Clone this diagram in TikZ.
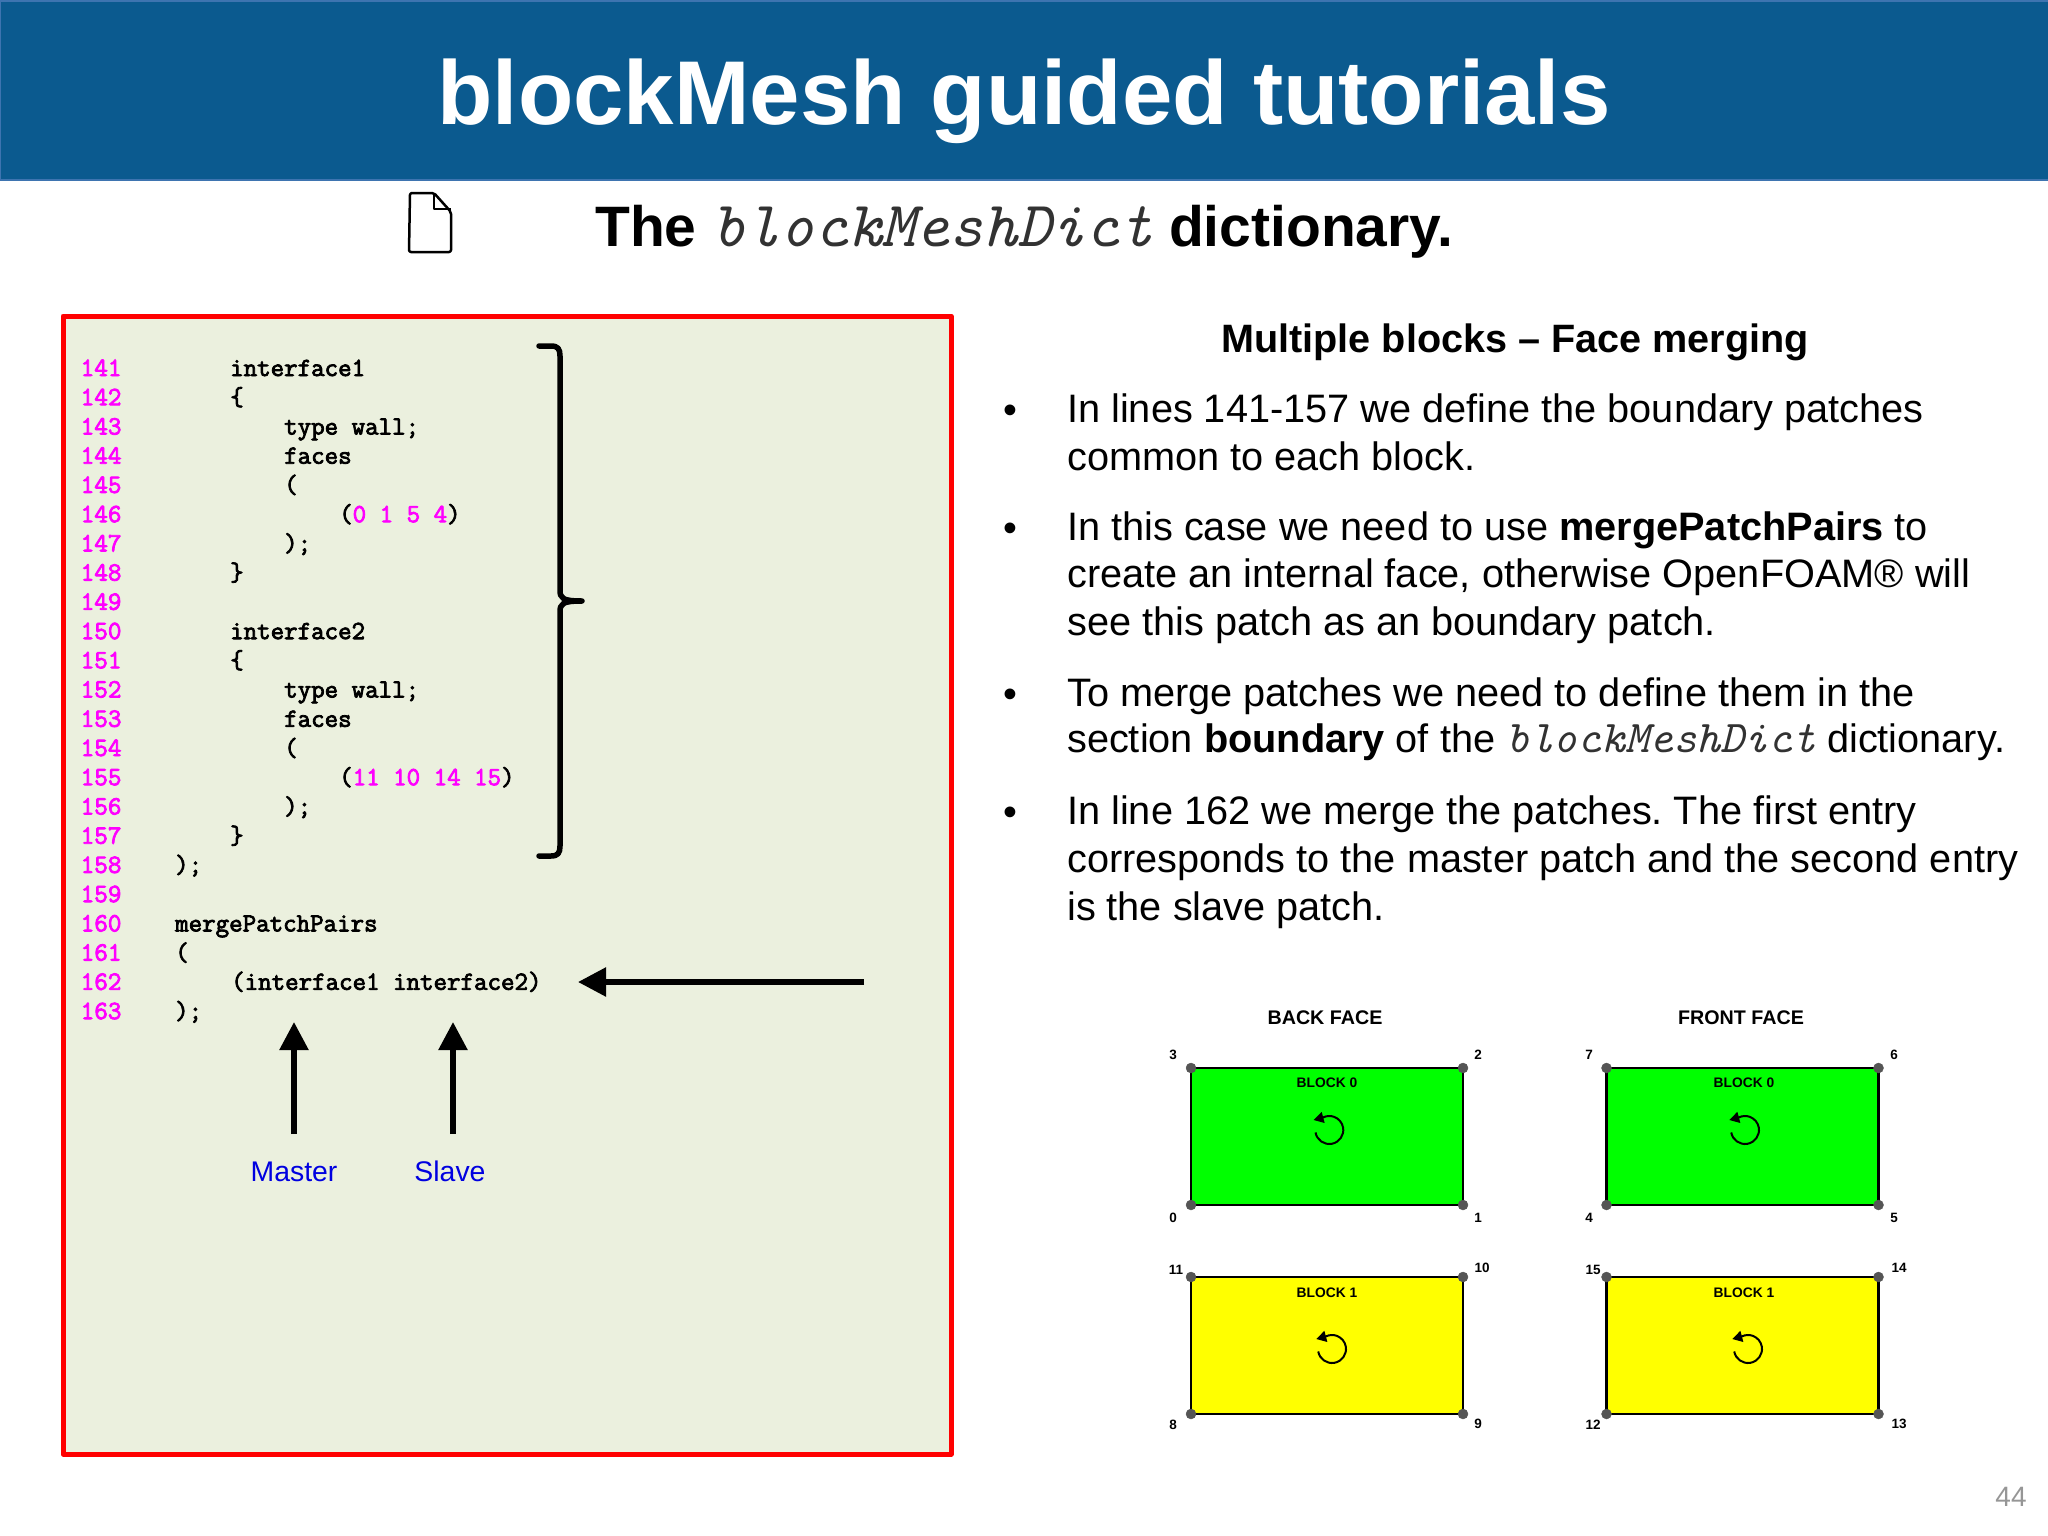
\documentclass[tikz,border=0pt]{standalone}
\usepackage{fontspec}
\setmainfont{Liberation Sans}
\newfontfamily\codefont{Latin Modern Mono}[FakeBold=3]
\usetikzlibrary{arrows.meta}
\usetikzlibrary{positioning}

\definecolor{headerblue}{RGB}{11,90,143}
\definecolor{headeredge}{RGB}{62,116,176}
\definecolor{panelback}{RGB}{235,240,222}
\definecolor{codemagenta}{RGB}{255,0,255}
\definecolor{labelblue}{RGB}{0,0,224}
\definecolor{dotgrey}{RGB}{85,85,85}
\definecolor{pagegrey}{RGB}{150,150,150}
\definecolor{blockgreen}{RGB}{0,255,0}
\definecolor{blockyellow}{RGB}{255,255,0}
\definecolor{dictgrey}{RGB}{50,50,50}

\newcommand{\dictword}[1]{{\fontsize{#1}{#1}\selectfont\ttfamily\mdseries\itshape\color{dictgrey}blockMeshDict}}
\newcommand{\vertid}[1]{\textcolor{codemagenta}{#1}}

\tikzset{
    linenum/.style={anchor=base west, inner sep=0pt, text=codemagenta, font=\fontsize{26.4}{26}\selectfont\codefont},
    codeline/.style={anchor=base west, inner sep=0pt, font=\fontsize{26.2}{26}\selectfont\codefont},
    bodyline/.style={anchor=base west, inner sep=0pt, font=\fontsize{39.7}{47}\selectfont},
    bullet/.style={inner sep=0pt, font=\fontsize{39.6}{47}\selectfont},
    facetitle/.style={inner sep=0pt, font=\fontsize{19.7}{20}\selectfont\bfseries},
    blocktitle/.style={inner sep=0pt, font=\fontsize{13.8}{14}\selectfont\bfseries},
    vertexnum/.style={inner sep=0pt, font=\fontsize{13.5}{14}\selectfont\bfseries},
    blockbox/.style={draw=black, line width=2.5pt, minimum width=272pt, minimum height=137pt, inner sep=0pt, outer sep=0pt},
    vertexdot/.style={circle, fill=dotgrey, draw=dotgrey, minimum size=10pt, inner sep=0pt},
    bigarrow/.style={line width=5.5pt, -{Triangle[length=28pt,width=28pt]}},
    turnarrow/.style={line width=2pt, -{Triangle[length=10pt,width=11pt]}},
    masterlabel/.style={inner sep=0pt, text=labelblue, font=\fontsize{28.4}{30}\selectfont},
}

\begin{document}
\frenchspacing
\begin{tikzpicture}[x=1pt, y=-1pt]

    \useasboundingbox (0, 0) rectangle (2048, 1536);

    % Declare the header
    \node[fill=headerblue, draw=headeredge, line width=2pt, anchor=north west, minimum width=2050pt, minimum height=179pt, inner sep=0pt] at (-1, 0) (header) {};
    \node[anchor=base, inner sep=0pt, text=white, font=\fontsize{90.6}{92}\selectfont\bfseries] at (1024, 124.5) (title) {blockMesh guided tutorials};
    \node[anchor=base west, inner sep=0pt, font=\fontsize{57}{60}\selectfont\bfseries] at (595, 246.5) (subtitle) {The \dictword{64.6} dictionary.};

    % Declare the file icon
    \draw[line width=2.5pt, line join=round, rounded corners=2pt, fill=white] (434, 193) -- (410, 193) -- (409, 252) -- (451, 252) -- (451, 212) -- cycle;
    \draw[line width=1.8pt, line join=round] (434, 193) -- (434, 209) -- (451, 209);

    % Declare the code panel
    \draw[draw=red, fill=panelback, line width=5pt, line join=round] (63, 316) rectangle (951, 1454);

    % Declare the line numbers
    \node[linenum] at (80.5, 376.0) (L141) {141};
    \node[linenum] at (80.5, 405.2) (L142) {142};
    \node[linenum] at (80.5, 434.5) (L143) {143};
    \node[linenum] at (80.5, 463.7) (L144) {144};
    \node[linenum] at (80.5, 492.9) (L145) {145};
    \node[linenum] at (80.5, 522.2) (L146) {146};
    \node[linenum] at (80.5, 551.4) (L147) {147};
    \node[linenum] at (80.5, 580.6) (L148) {148};
    \node[linenum] at (80.5, 609.8) (L149) {149};
    \node[linenum] at (80.5, 639.1) (L150) {150};
    \node[linenum] at (80.5, 668.3) (L151) {151};
    \node[linenum] at (80.5, 697.5) (L152) {152};
    \node[linenum] at (80.5, 726.8) (L153) {153};
    \node[linenum] at (80.5, 756.0) (L154) {154};
    \node[linenum] at (80.5, 785.2) (L155) {155};
    \node[linenum] at (80.5, 814.5) (L156) {156};
    \node[linenum] at (80.5, 843.7) (L157) {157};
    \node[linenum] at (80.5, 872.9) (L158) {158};
    \node[linenum] at (80.5, 902.1) (L159) {159};
    \node[linenum] at (80.5, 931.4) (L160) {160};
    \node[linenum] at (80.5, 960.6) (L161) {161};
    \node[linenum] at (80.5, 989.8) (L162) {162};
    \node[linenum] at (80.5, 1019.1) (L163) {163};

    % Declare the code lines
    \node[codeline] at (230, 376.0) (C141) {interface1};
    \node[codeline] at (230, 405.2) (C142) {\{};
    \node[codeline] at (284, 434.5) (C143) {type wall;};
    \node[codeline] at (284, 463.7) (C144) {faces};
    \node[codeline] at (284, 492.9) (C145) {(};
    \node[codeline] at (339, 522.2) (C146) {(\vertid{0} \vertid{1} \vertid{5} \vertid{4})};
    \node[codeline] at (284, 551.4) (C147) {);};
    \node[codeline] at (230, 580.6) (C148) {\}};
    \node[codeline] at (230, 639.1) (C150) {interface2};
    \node[codeline] at (230, 668.3) (C151) {\{};
    \node[codeline] at (284, 697.5) (C152) {type wall;};
    \node[codeline] at (284, 726.8) (C153) {faces};
    \node[codeline] at (284, 756.0) (C154) {(};
    \node[codeline] at (339, 785.2) (C155) {(\vertid{11} \vertid{10} \vertid{14} \vertid{15})};
    \node[codeline] at (284, 814.5) (C156) {);};
    \node[codeline] at (230, 843.7) (C157) {\}};
    \node[codeline] at (175, 872.9) (C158) {);};
    \node[codeline] at (175, 931.4) (C160) {mergePatchPairs};
    \node[codeline] at (175, 960.6) (C161) {(};
    \node[codeline] at (231, 989.8) (C162) {(interface1 interface2)};
    \node[codeline] at (175, 1019.1) (C163) {);};

    % Declare the bracket
    \draw[line width=5.5pt, line cap=round, line join=round] (539, 346) -- (551, 346) .. controls (558, 346) and (560, 349) .. (560, 356) -- (560, 590) .. controls (560, 598) and (562, 601) .. (582, 601) .. controls (562, 601) and (560, 604) .. (560, 612) -- (560, 846) .. controls (560, 853) and (558, 856) .. (551, 856) -- (539, 856);

    % Declare the arrows
    \coordinate (mergetail) at (864, 982);
    \coordinate (mergetip) at (578, 982);
    \node[masterlabel] at (294, 1171.5) (master) {Master};
    \node[masterlabel] at (450, 1171.5) (slave) {Slave};
    \coordinate (mastertail) at (294, 1134);
    \coordinate (mastertip) at (294, 1022);
    \coordinate (slavetail) at (453, 1134);
    \coordinate (slavetip) at (453, 1022);
    \draw[bigarrow] (mergetail) -- (mergetip);
    \draw[bigarrow] (mastertail) -- (mastertip);
    \draw[bigarrow] (slavetail) -- (slavetip);

    % Declare the text
    \node[inner sep=0pt, anchor=base, font=\fontsize{39.6}{47}\selectfont\bfseries] at (1515, 352) (heading) {Multiple blocks -- Face merging};
    \node[bullet] at (1010, 414) (B1) {•};
    \node[bodyline] at (1067, 422) (T1a) {In lines 141-157 we define the boundary patches};
    \node[bodyline] at (1067, 470) (T1b) {common to each block.};
    \node[bullet] at (1010, 532) (B2) {•};
    \node[bodyline] at (1067, 540.5) (T2a) {In this case we need to use \textbf{mergePatchPairs} to};
    \node[bodyline] at (1067, 587.5) (T2b) {create an internal face, otherwise OpenFOAM® will};
    \node[bodyline] at (1067, 635.5) (T2c) {see this patch as an boundary patch.};
    \node[bullet] at (1010, 698) (B3) {•};
    \node[bodyline] at (1067, 706) (T3a) {To merge patches we need to define them in the};
    \node[bodyline] at (1067, 752.5) (T3b) {section \textbf{boundary} of the \dictword{45.4} dictionary.};
    \node[bullet] at (1010, 816) (B4) {•};
    \node[bodyline] at (1067, 824.5) (T4a) {In line 162 we merge the patches. The first entry};
    \node[bodyline] at (1067, 872.5) (T4b) {corresponds to the master patch and the second entry};
    \node[bodyline] at (1067, 920.5) (T4c) {is the slave patch.};

    % Declare the blocks
    \node[facetitle] at (1325, 1018) (backface) {BACK FACE};
    \node[facetitle] at (1741, 1018) (frontface) {FRONT FACE};
    \node[blockbox, fill=blockgreen] at (1327, 1136.5) (back0) {};
    \node[blockbox, fill=blockgreen] at (1742.5, 1136.5) (front0) {};
    \node[blockbox, fill=blockyellow] at (1327, 1345.5) (back1) {};
    \node[blockbox, fill=blockyellow] at (1742.5, 1345.5) (front1) {};
    \node[blocktitle] at (1327, 1083) (backname0) {BLOCK 0};
    \node[blocktitle] at (1744, 1083) (frontname0) {BLOCK 0};
    \node[blocktitle] at (1327, 1293) (backname1) {BLOCK 1};
    \node[blocktitle] at (1744, 1293) (frontname1) {BLOCK 1};

    % Declare the vertices
    \node[vertexdot] at (back0.south west) (V0) {};
    \node[vertexdot] at (back0.south east) (V1) {};
    \node[vertexdot] at (back0.north east) (V2) {};
    \node[vertexdot] at (back0.north west) (V3) {};
    \node[vertexdot] at (front0.south west) (V4) {};
    \node[vertexdot] at (front0.south east) (V5) {};
    \node[vertexdot] at (front0.north east) (V6) {};
    \node[vertexdot] at (front0.north west) (V7) {};
    \node[vertexdot] at (back1.south west) (V8) {};
    \node[vertexdot] at (back1.south east) (V9) {};
    \node[vertexdot] at (back1.north east) (V10) {};
    \node[vertexdot] at (back1.north west) (V11) {};
    \node[vertexdot] at (front1.south west) (V12) {};
    \node[vertexdot] at (front1.south east) (V13) {};
    \node[vertexdot] at (front1.north east) (V14) {};
    \node[vertexdot] at (front1.north west) (V15) {};

    % Declare the vertex numbers
    \node[vertexnum] at (1173, 1218) (N0) {0};
    \node[vertexnum] at (1478, 1218) (N1) {1};
    \node[vertexnum] at (1478, 1055) (N2) {2};
    \node[vertexnum] at (1173, 1055) (N3) {3};
    \node[vertexnum] at (1589, 1218) (N4) {4};
    \node[vertexnum] at (1894, 1218) (N5) {5};
    \node[vertexnum] at (1894, 1055) (N6) {6};
    \node[vertexnum] at (1589, 1055) (N7) {7};
    \node[vertexnum] at (1173, 1425) (N8) {8};
    \node[vertexnum] at (1478, 1424) (N9) {9};
    \node[vertexnum] at (1482, 1268) (N10) {10};
    \node[vertexnum] at (1176, 1270) (N11) {11};
    \node[vertexnum] at (1593, 1425) (N12) {12};
    \node[vertexnum] at (1899, 1424) (N13) {13};
    \node[vertexnum] at (1899, 1268) (N14) {14};
    \node[vertexnum] at (1593, 1270) (N15) {15};

    % Declare the turning arrows
    \coordinate (turn0) at (1329.3, 1130);
    \coordinate (turn1) at (1745, 1130);
    \coordinate (turn2) at (1332, 1349);
    \coordinate (turn3) at (1748, 1349);
    \draw[turnarrow] ([shift={(190:14pt)}]turn0) arc[start angle=190, end angle=476, radius=14pt] -- ++(195:10pt);
    \draw[turnarrow] ([shift={(190:14pt)}]turn1) arc[start angle=190, end angle=476, radius=14pt] -- ++(195:10pt);
    \draw[turnarrow] ([shift={(190:14pt)}]turn2) arc[start angle=190, end angle=476, radius=14pt] -- ++(195:10pt);
    \draw[turnarrow] ([shift={(190:14pt)}]turn3) arc[start angle=190, end angle=476, radius=14pt] -- ++(195:10pt);

    % Declare the page number
    \node[anchor=base, inner sep=0pt, text=pagegrey, font=\fontsize{28}{30}\selectfont] at (2011, 1506) (pagenum) {44};

\end{tikzpicture}
\end{document}
